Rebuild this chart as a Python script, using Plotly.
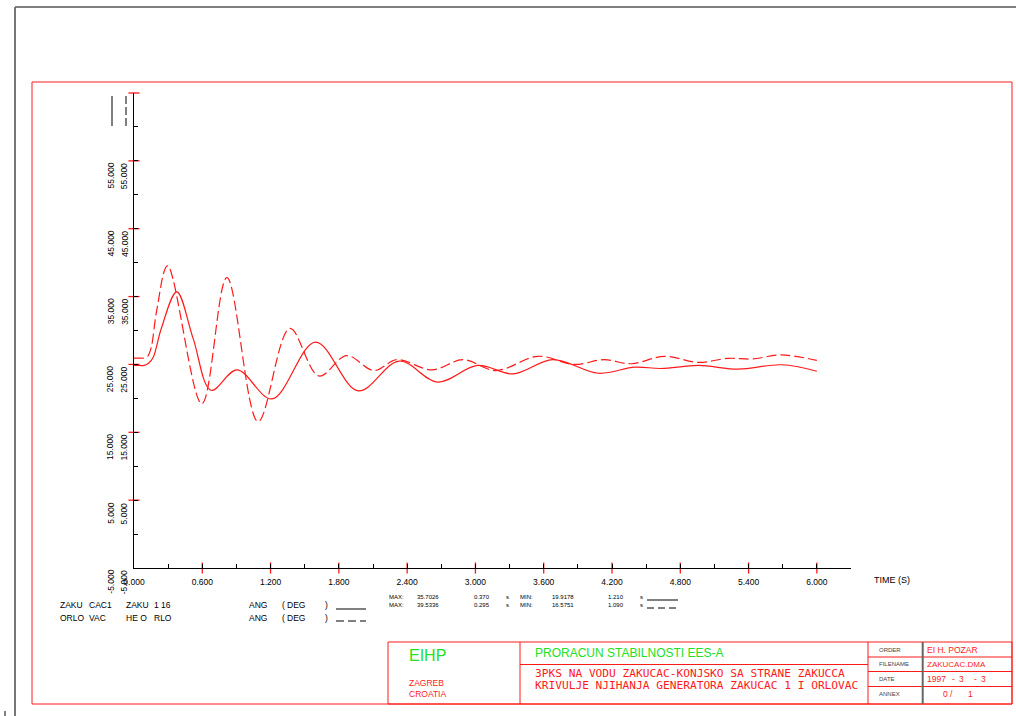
import plotly.graph_objects as go

# ---------------- data ----------------
t_solid = [0.0, 0.05, 0.09, 0.13, 0.17, 0.24, 0.376, 0.52, 0.678, 0.905, 1.213, 1.595, 1.97, 2.33, 2.667,
           3.02, 3.33, 3.68, 4.08, 4.40, 4.63, 4.96, 5.31, 5.69, 6.0]
v_solid = [24.85, 24.85, 24.85, 25.2, 26.1, 30.3, 35.70, 28.8, 21.2, 24.2, 19.92, 28.3, 21.1, 25.5, 22.4,
           24.85, 23.6, 25.7, 23.7, 24.6, 24.4, 24.85, 24.3, 24.95, 24.0]

t_dash = [0.0, 0.05, 0.09, 0.12, 0.15, 0.20, 0.295, 0.596, 0.816, 1.090, 1.369, 1.624, 1.868, 2.108, 2.31,
          2.62, 2.89, 3.18, 3.55, 3.87, 4.13, 4.37, 4.66, 4.96, 5.22, 5.43, 5.69, 6.0]
v_dash = [25.93, 25.93, 25.93, 26.2, 27.4, 33.0, 39.53, 19.2, 37.8, 16.58, 30.3, 23.3, 26.3, 24.1, 25.7,
          24.2, 25.7, 24.1, 26.2, 25.0, 25.7, 25.1, 26.2, 25.3, 25.9, 25.8, 26.4, 25.6]

x_ticks_all = [round(0.3 * i, 1) for i in range(0, 22)]          # 0 .. 6.3
x_ticks_major = [round(0.6 * i, 1) for i in range(1, 11)]        # 0.6 .. 6.0
x_tick_labels = ["%.3f" % v if (round(v / 0.6, 6) % 1 == 0) else "" for v in x_ticks_all]
y_ticks_all = list(range(-5, 70, 5))
y_ticks_major = [5, 15, 25, 35, 45, 55, 65]
y_label_vals = [-5, 5, 15, 25, 35, 45, 55]

row1_left = ["ZAKU", "CAC1", "ZAKU", "1 16", "ANG", "(", "DEG", ")"]
row2_left = ["ORLO", "VAC", "HE O", "RLO", "ANG", "(", "DEG", ")"]
stats1 = ["MAX:", "35.7026", "0.370", "s", "MIN:", "19.9178", "1.210", "s"]
stats2 = ["MAX:", "39.5336", "0.295", "s", "MIN:", "16.5751", "1.090", "s"]
table_labels = ["ORDER", "FILENAME", "DATE", "ANNEX"]

RED = "#ff1a1a"
GREEN = "#22e022"
NARROW = "Liberation Sans, Arial, sans-serif"
MONO = "DejaVu Sans Mono, Liberation Mono, monospace"

# ---------------- geometry helpers (pixel -> paper) ----------------
W, H = 1016, 716
PL, PR, PT, PB = 134, 851, 93, 568


def px(x):
    return (x - PL) / (PR - PL)


def py(y):
    return (PB - y) / (PB - PT)


fig = go.Figure()

fig.add_trace(go.Scatter(x=t_solid, y=v_solid, mode="lines",
                         line=dict(color=RED, width=1.2, shape="spline", smoothing=1.0),
                         showlegend=False, hoverinfo="skip"))
fig.add_trace(go.Scatter(x=t_dash, y=v_dash, mode="lines",
                         line=dict(color=RED, width=1.2, shape="spline", smoothing=1.0,
                                   dash="10px,4px"),
                         showlegend=False, hoverinfo="skip"))

# red crossing major ticks
fig.add_trace(go.Scatter(x=x_ticks_major, y=[-5] * len(x_ticks_major), mode="markers",
                         marker=dict(symbol="line-ns", size=8, line=dict(color=RED, width=1.3)),
                         cliponaxis=False, showlegend=False, hoverinfo="skip"))
fig.add_trace(go.Scatter(x=[0] * len(y_ticks_major), y=y_ticks_major, mode="markers",
                         marker=dict(symbol="line-ew", size=8, line=dict(color=RED, width=1.3)),
                         cliponaxis=False, showlegend=False, hoverinfo="skip"))

shapes = []


def line(x0, y0, x1, y1, color=RED, width=1, dash=None):
    d = dict(type="line", xref="paper", yref="paper", x0=px(x0), y0=py(y0), x1=px(x1), y1=py(y1),
             line=dict(color=color, width=width))
    if dash:
        d["line"]["dash"] = dash
    shapes.append(d)


# outer frame
line(15, 7, 1016, 7, color="black", width=1)
line(15, 7, 15, 716, color="#777777", width=2)
line(5, 711, 5, 716, color="black", width=1)
# red border
shapes.append(dict(type="rect", xref="paper", yref="paper", x0=px(32), y0=py(82), x1=px(1012), y1=py(704),
                   line=dict(color=RED, width=1)))
# title block
shapes.append(dict(type="rect", xref="paper", yref="paper", x0=px(388), y0=py(642), x1=px(1012), y1=py(704),
                   line=dict(color=RED, width=1)))
line(520, 642, 520, 704)
line(520, 664.5, 868, 664.5)
line(868, 642, 868, 704)
for yy in [657, 671.5, 686.5]:
    line(868, yy, 1012, yy)
line(922.7, 642, 922.7, 704, color="#666666", width=2)

# legend samples at top of y axis
line(112, 96, 112, 126, color="black", width=1)
line(126, 96, 126, 126, color="black", width=1, dash="8px,3px")
# legend samples in bottom text
line(336, 609, 366, 609, color="black", width=1)
line(336, 621, 366, 621, color="black", width=1, dash="8px,4px")
line(647, 600, 678, 600, color="black", width=1)
line(647, 608, 678, 608, color="black", width=1, dash="7px,4px")

annotations = []


def text(s, x, y, size=10, color="black", family=NARROW, xanchor="left"):
    annotations.append(dict(text=s, x=px(x), y=py(y), xref="paper", yref="paper", showarrow=False,
                            xanchor=xanchor, yanchor="middle",
                            font=dict(size=size, color=color, family=family)))


# y-axis labels (two columns, rotated)
for v in y_label_vals:
    for cx in [110.7, 124.3]:
        annotations.append(dict(text="%.3f" % v, x=px(cx), y=v, xref="paper", yref="y",
                                showarrow=False, textangle=-90, xanchor="center", yanchor="top",
                                font=dict(size=8.5, color="black", family=NARROW)))

text("TIME (S)", 872, 580, size=9)

# bottom descriptive text
xs_rows = [58, 87, 124, 152, 247, 280, 285, 323]
for s, x in zip(row1_left, xs_rows):
    text(s, x, 605, size=8.5)
for s, x in zip(row2_left, xs_rows):
    text(s, x, 618, size=8.5)

xs_stats = [387, 415, 472, 504, 518, 550, 606, 638]
for s, x in zip(stats1, xs_stats):
    text(s, x, 597, size=6)
for s, x in zip(stats2, xs_stats):
    text(s, x, 605, size=6)

# title block text
text("EIHP", 407, 655, size=16, color=GREEN)
text("ZAGREB", 407, 683, size=8.5, color=RED)
text("CROATIA", 407, 694, size=8.5, color=RED)
text("PRORACUN STABILNOSTI EES-A", 533, 653, size=12, color=GREEN)
text("3PKS NA VODU ZAKUCAC-KONJSKO SA STRANE ZAKUCCA", 533, 673, size=11.2, color=RED, family=MONO)
text("KRIVULJE NJIHANJA GENERATORA ZAKUCAC 1 I ORLOVAC", 533, 685.5, size=11.2, color=RED, family=MONO)

for s, yy in zip(table_labels, [649.5, 664, 679, 694]):
    text(s, 877, yy, size=6, color="#444444")
text("EI H. POZAR", 925, 649.5, size=8.5, color=RED)
text("ZAKUCAC.DMA", 925, 664, size=8, color=RED)
text("1997", 925, 679, size=8.5, color=RED)
text("-", 953, 679, size=8.5, color=RED, xanchor="center")
text("3", 962, 679, size=8.5, color=RED, xanchor="center")
text("-", 975, 679, size=8.5, color=RED, xanchor="center")
text("3", 983, 679, size=8.5, color=RED, xanchor="center")
text("0 /", 941, 694, size=8.5, color=RED)
text("1", 970, 694, size=8.5, color=RED, xanchor="center")

fig.update_layout(
    width=W, height=H,
    margin=dict(l=PL, r=W - PR, t=PT, b=H - PB, pad=0),
    paper_bgcolor="white", plot_bgcolor="white",
    showlegend=False,
    shapes=shapes, annotations=annotations,
    xaxis=dict(range=[0, 6.3], tickvals=x_ticks_all, ticktext=x_tick_labels,
               ticks="inside", ticklen=4, tickcolor="black", tickwidth=1,
               showline=True, linecolor="black", linewidth=1.3, showgrid=False, zeroline=False,
               tickfont=dict(size=8.5, color="black", family=NARROW), ticklabelstandoff=6),
    yaxis=dict(range=[-5, 65], tickvals=y_ticks_all, ticks="inside", ticklen=4,
               tickcolor="black", tickwidth=1, showticklabels=False,
               showline=True, linecolor="black", linewidth=1.3, showgrid=False, zeroline=False),
)

fig.write_html("out.html", config={"displayModeBar": False},
               post_script="document.body.style.margin='0';document.body.style.overflow='hidden';")
